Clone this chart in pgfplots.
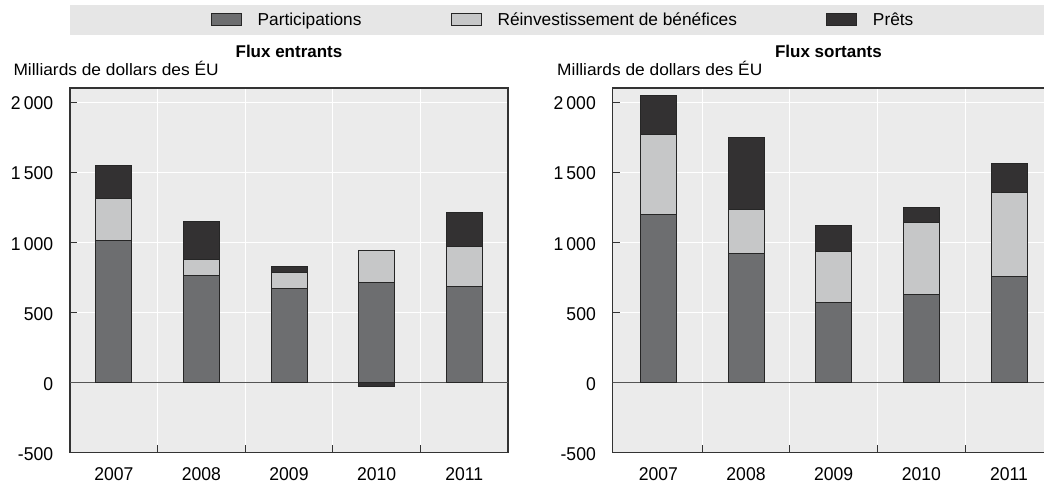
\documentclass[border=0pt]{standalone}
\usepackage{pgfplots}
\pgfplotsset{compat=1.18}
\usepackage{fontspec}
\setmainfont{Liberation Sans}
\newfontfamily\tickfont[FakeStretch=0.95]{Liberation Sans}
\newfontfamily\labfont[FakeStretch=1.05]{Liberation Sans}

\definecolor{plotbg}{HTML}{EBEBEB}
\definecolor{bandbg}{HTML}{E6E6E6}
\definecolor{partcol}{HTML}{6D6E70}
\definecolor{reinvcol}{HTML}{C6C7C8}
\definecolor{pretcol}{HTML}{333132}
\definecolor{edgecol}{HTML}{262626}
\definecolor{axisdark}{HTML}{333333}
\definecolor{zerocol}{HTML}{555555}

\pgfplotsset{
  legbox/.style={legend image code/.code={\draw[##1, line width=1pt] (0pt,-6pt) rectangle (30pt,6pt);}},
  fdi/.style={
    scale only axis, height=364.5pt,
    ymin=-500, ymax=2100,
    ybar stacked, bar width=36pt,
    axis background/.style={fill=plotbg},
    axis line style={draw=axisdark, line width=1.2pt},
    ytick={-500,0,500,1000,1500,2000},
    yticklabels={-500,0,500,1\,000,1\,500,2\,000},
    xtick={0,1,2,3,4},
    xticklabels={2007,2008,2009,2010,2011},
    minor xtick={0.5,1.5,2.5,3.5},
    ymajorgrids, xminorgrids,
    major grid style={white, line width=1pt},
    minor grid style={white, line width=1pt},
    tick align=inside, major tick length=7pt, minor tick length=7pt,
    ytick pos=left, xtick pos=bottom,
    tick style={axisdark, line width=1pt},
    major x tick style={draw=none},
    every tick label/.append style={font=\tickfont\fontsize{18.5}{20}\selectfont, inner sep=0pt},
    yticklabel style={anchor=east, xshift=-16.7pt, yshift=-1.5pt},
    xticklabel style={anchor=north, yshift=-15.2pt},
    title style={font=\fontsize{17}{20}\selectfont\bfseries, at={(axis description cs:0.5,1)}, anchor=base, yshift=24.7pt},
    ylabel style={font=\labfont\fontsize{16.5}{19}\selectfont, rotate=-90, at={(axis description cs:0,1)}, anchor=base west, yshift=12pt},
    ylabel={Milliards de dollars des ÉU},
    every axis plot/.append style={draw=edgecol, line width=1pt},
    /pgf/number format/assume math mode=true,
  },
}

\begin{document}
\begin{tikzpicture}
\path[use as bounding box] (0,0) rectangle (1044pt,486pt);
\fill[bandbg] (70pt,451pt) rectangle (1044pt,481pt);

% Flux entrants
\begin{axis}[fdi,
  at={(70pt,33.5pt)}, anchor=south west, width=438pt,
  xmin=-0.5, xmax=4.5,
  title={Flux entrants},
  ylabel style={xshift=-60pt},
  legend columns=3,
  legend cell align=left,
  legend style={at={(axis description cs:1.1256,1.1866)}, anchor=center,
    draw=none, fill=none, font=\fontsize{17.3}{20}\selectfont,
    /tikz/every odd column/.append style={column sep=14pt},
    /tikz/every even column/.append style={column sep=87pt}},
]
\addplot[fill=partcol, legbox] coordinates {(0,1009) (1,766) (2,671) (3,714) (4,686)};
\addlegendentry{Participations}
\addplot[fill=reinvcol, legbox] coordinates {(0,306) (1,113) (2,112) (3,224) (4,285)};
\addlegendentry{Réinvestissement de bénéfices}
\addplot[fill=pretcol, legbox] coordinates {(0,230) (1,266) (2,46) (3,0) (4,243)};
\addlegendentry{Prêts}
\draw[zerocol, line width=0.8pt] (axis cs:-1,0) -- (axis cs:5,0);
\end{axis}

% negative loans in 2010 (inflows), drawn from zero
\begin{axis}[
  scale only axis, hide axis,
  at={(70pt,33.5pt)}, anchor=south west, width=438pt, height=364.5pt,
  xmin=-0.5, xmax=4.5, ymin=-500, ymax=2100,
  ybar, bar width=36pt, bar shift=0pt,
]
\addplot[fill=pretcol, draw=edgecol, line width=1pt] coordinates {(3,-29)};
\end{axis}

% Flux sortants
\begin{axis}[fdi,
  at={(612.7pt,33.5pt)}, anchor=south west, width=434pt,
  xmin=-0.52, xmax=4.429,
  title={Flux sortants},
  title style={at={(axis description cs:0.497,1)}},
  ylabel style={xshift=-59pt},
]
\addplot[fill=partcol] coordinates {(0,1198) (1,919) (2,569) (3,624) (4,752)};
\addplot[fill=reinvcol] coordinates {(0,573) (1,317) (2,362) (3,517) (4,600)};
\addplot[fill=pretcol] coordinates {(0,274) (1,512) (2,188) (3,104) (4,207)};
\draw[zerocol, line width=0.8pt] (axis cs:-1,0) -- (axis cs:5,0);
\end{axis}
\end{tikzpicture}
\end{document}
